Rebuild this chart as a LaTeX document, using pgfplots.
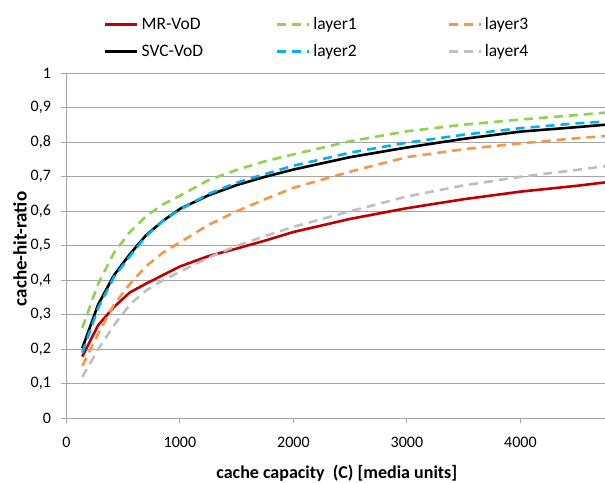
\documentclass[border=0pt]{standalone}
\usepackage{fontspec}
\setmainfont{Carlito}
\usepackage{pgfplots}
\usepackage{pgfplotstable}
\pgfplotsset{compat=1.18}
\definecolor{cred}{RGB}{192,0,0}
\definecolor{cgreen}{RGB}{146,208,80}
\definecolor{cblue}{RGB}{0,176,240}
\definecolor{corange}{RGB}{247,150,70}
\definecolor{cgray}{RGB}{191,191,191}
\definecolor{gridc}{RGB}{165,165,165}
\pgfplotstableread{
C     mr     l1     l3     svc    l2     l4
140   0.179  0.262  0.152  0.203  0.190  0.120
280   0.270  0.390  0.245  0.330  0.320  0.200
420   0.323  0.480  0.330  0.415  0.410  0.270
560   0.365  0.540  0.390  0.476  0.470  0.330
700   0.390  0.585  0.440  0.530  0.527  0.370
850   0.415  0.620  0.480  0.572  0.572  0.400
1000  0.440  0.645  0.510  0.607  0.605  0.425
1250  0.470  0.690  0.560  0.646  0.650  0.465
1500  0.492  0.720  0.600  0.676  0.683  0.500
1750  0.515  0.745  0.635  0.700  0.708  0.528
2000  0.540  0.765  0.668  0.721  0.732  0.555
2500  0.578  0.803  0.715  0.757  0.770  0.600
3000  0.609  0.832  0.757  0.785  0.799  0.643
3500  0.635  0.851  0.780  0.810  0.822  0.675
4000  0.657  0.866  0.797  0.831  0.841  0.700
4500  0.674  0.879  0.812  0.844  0.855  0.720
4750  0.684  0.886  0.818  0.851  0.860  0.731
}\data
\begin{document}
\begin{tikzpicture}[x=1pt,y=1pt]
\useasboundingbox (0,0) rectangle (605,482);
\begin{axis}[
  at={(66.4pt,63.7pt)}, anchor=south west,
  scale only axis, width=538.6pt, height=345pt,
  xmin=0, xmax=4745, ymin=0, ymax=1,
  axis x line*=bottom, axis y line*=left,
  axis line style={gridc, line width=0.9pt, -},
  xtick={0,1000,2000,3000,4000},
  xticklabels={0,1000,2000,3000,4000},
  ytick={0,0.1,0.2,0.3,0.4,0.5,0.6,0.7,0.8,0.9,1},
  yticklabels={0,{0,1},{0,2},{0,3},{0,4},{0,5},{0,6},{0,7},{0,8},{0,9},1},
  ymajorgrids, grid style={gridc, line width=0.9pt},
  tick style={gridc, line width=0.9pt},
  tick align=outside, major tick length=5pt,
  ticklabel style={font=\fontsize{16}{18}\selectfont},
  xticklabel style={yshift=-10pt},
  yticklabel style={xshift=-7pt},
  xlabel={cache capacity\ \ (C) [media units]},
  ylabel={cache-hit-ratio},
  xlabel style={font=\bfseries\fontsize{18}{20}\selectfont,
    at={(axis description cs:0.502,-0.159)}, anchor=center},
  ylabel style={font=\bfseries\fontsize{19}{21}\selectfont,
    at={(axis description cs:-0.086,0.491)}, anchor=center},
  legend columns=3,
  legend image code/.code={\draw[#1] (0pt,0pt) -- (32pt,0pt);},
  legend style={at={(axis description cs:0.064,1.173)}, anchor=north west,
    draw=none, fill=none, font=\fontsize{17.5}{19}\selectfont,
    nodes={inner sep=2pt},
    row sep=9pt, column sep=1pt,
    /tikz/every even column/.append style={text width=131pt}},
  legend cell align=left,
  every axis plot/.append style={line width=2.6pt, line join=round},
]
\addplot[cred, no marks] table[x=C,y=mr] {\data};
\addlegendentry{MR-VoD}
\addplot[cgreen, no marks, dash pattern=on 9pt off 6pt] table[x=C,y=l1] {\data};
\addlegendentry{layer1}
\addplot[corange, no marks, dash pattern=on 9pt off 6pt] table[x=C,y=l3] {\data};
\addlegendentry{layer3}
\addplot[black, no marks] table[x=C,y=svc] {\data};
\addlegendentry{SVC-VoD}
\addplot[cblue, no marks, dash pattern=on 9pt off 6pt] table[x=C,y=l2] {\data};
\addlegendentry{layer2}
\addplot[cgray, no marks, dash pattern=on 9pt off 6pt] table[x=C,y=l4] {\data};
\addlegendentry{layer4}
\end{axis}
\end{tikzpicture}
\end{document}
